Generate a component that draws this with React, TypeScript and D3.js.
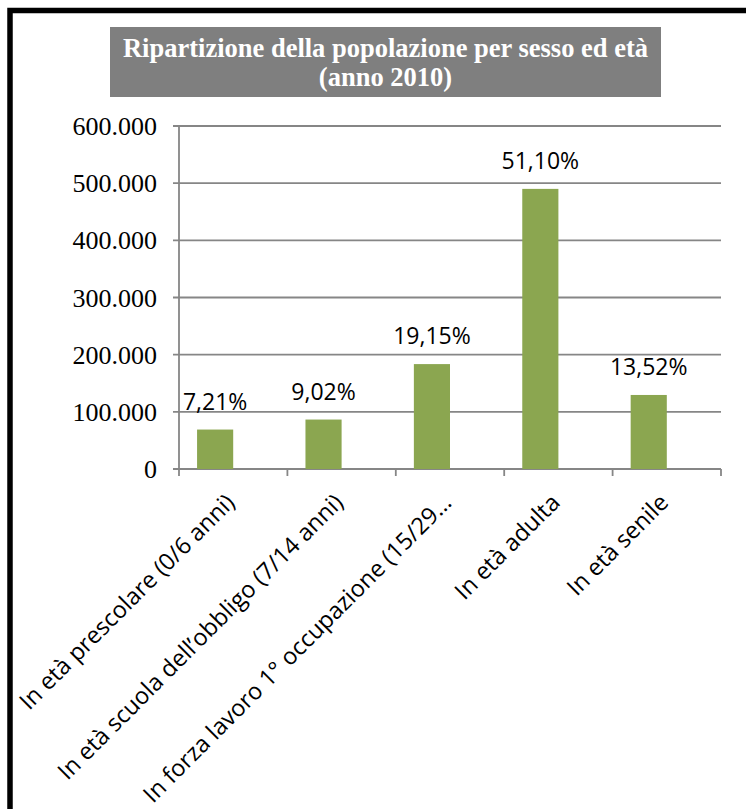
import * as d3 from "d3";

const categories = [
  "In età prescolare (0/6 anni)",
  "In età scuola dell’obbligo (7/14 anni)",
  "In forza lavoro 1° occupazione (15/29…",
  "In età adulta",
  "In età senile",
];
const popolazione = [69000, 86500, 183500, 490000, 129500];
const percentuali = ["7,21%", "9,02%", "19,15%", "51,10%", "13,52%"];
const yTicks = [0, 100000, 200000, 300000, 400000, 500000, 600000];
const titleLines = ["Ripartizione della popolazione per sesso ed età", "(anno 2010)"];

const W = 746;
const H = 809;
const grid = "#868686";
const barColor = "#8ba650";
const serif = "Times New Roman, Liberation Serif, serif";
const sans = "Open Sans, sans-serif";

export default function App() {
  const x = d3.scaleBand<string>().domain(categories).range([179, 721]);
  // Excel leaves room for an empty second series, so the bar sits left of center
  const inner = d3
    .scaleBand<string>()
    .domain(["serie", "vuota"])
    .range([0, x.bandwidth()])
    .paddingOuter(0.5);
  const y = d3.scaleLinear().domain([0, 600000]).range([469, 126]);
  const fmt = (v: number) => d3.format(",")(v).replace(/,/g, ".");

  const bounds = [...categories.map((c) => x(c)!), 721];

  return (
    <svg
      width={W}
      height={H}
      style={{ position: "fixed", left: 0, top: 0, background: "#fff" }}
    >
      <rect width={W} height={H} fill="#fff" />
      {/* frame */}
      <path d={`M10,${H} V10.5 H${W}`} fill="none" stroke="#000" strokeWidth={5.5} />

      {/* title */}
      <rect x={110} y={27} width={551} height={70} fill="#7f7f7f" />
      {titleLines.map((t, i) => (
        <text
          key={t}
          x={385.5}
          y={57 + i * 29}
          textAnchor="middle"
          fill="#fff"
          style={{ fontFamily: serif, fontWeight: "bold", fontSize: 26.5 }}
        >
          {t}
        </text>
      ))}

      {/* gridlines and y ticks */}
      {yTicks.map((t) => (
        <g key={t}>
          <line x1={173} x2={721} y1={y(t)} y2={y(t)} stroke={grid} strokeWidth={1.8} />
          <text
            x={157}
            y={y(t) + 9}
            textAnchor="end"
            fill="#000"
            style={{ fontFamily: serif, fontSize: 26 }}
          >
            {fmt(t)}
          </text>
        </g>
      ))}
      {/* y axis */}
      <line x1={179} x2={179} y1={y(600000)} y2={y(0)} stroke={grid} strokeWidth={1.8} />
      {/* x ticks */}
      {bounds.map((b, i) => (
        <line key={i} x1={b} x2={b} y1={y(0)} y2={y(0) + 7} stroke={grid} strokeWidth={1.8} />
      ))}

      {/* bars */}
      {categories.map((c, i) => {
        const bx = x(c)! + inner("serie")!;
        const by = y(popolazione[i]);
        return (
          <g key={c}>
            <rect
              x={bx}
              y={by}
              width={inner.bandwidth()}
              height={y(0) - by}
              fill={barColor}
            />
            <text
              x={bx + inner.bandwidth() / 2}
              y={by - 20}
              textAnchor="middle"
              fill="#000"
              style={{ fontFamily: sans, fontSize: 23 }}
            >
              {percentuali[i]}
            </text>
          </g>
        );
      })}

      {/* category labels */}
      {categories.map((c) => {
        const ax = x(c)! + x.bandwidth() / 2 + 3;
        const ay = y(0) + 35;
        return (
          <text
            key={c}
            transform={`translate(${ax},${ay}) rotate(-45)`}
            textAnchor="end"
            fill="#000"
            style={{ fontFamily: sans, fontSize: 23.5 }}
          >
            {c}
          </text>
        );
      })}
    </svg>
  );
}
